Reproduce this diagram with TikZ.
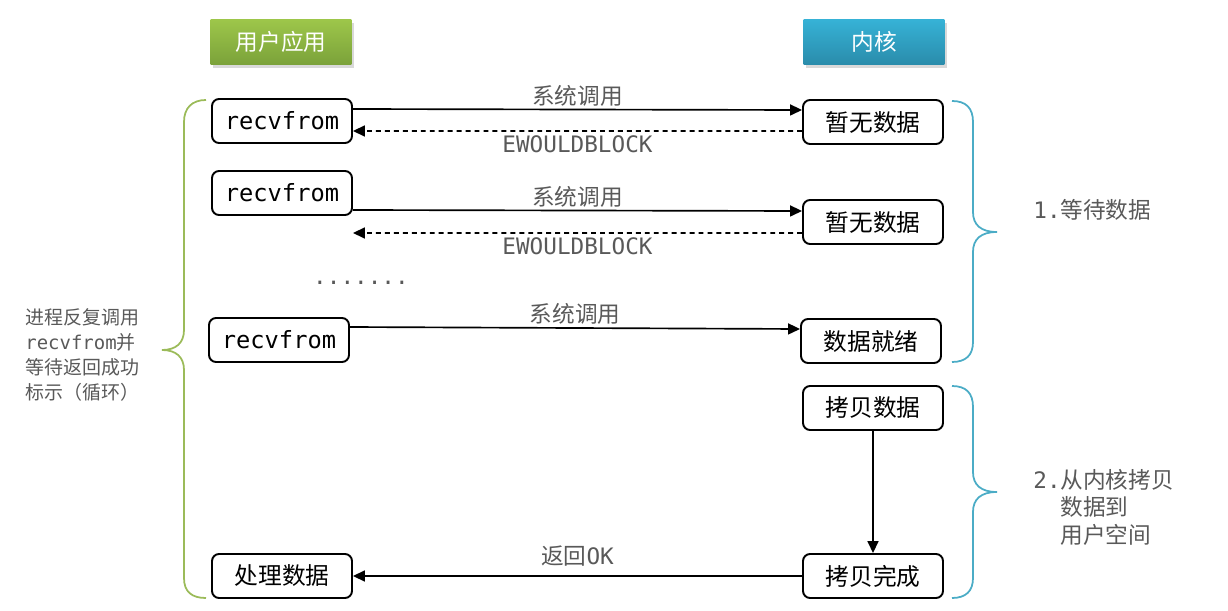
\documentclass[tikz,border=0pt]{standalone}
\usepackage{fontspec}
\setmainfont{Noto Sans CJK SC}
\setmonofont{DejaVu Sans Mono}
\usepackage{tikz}
\usetikzlibrary{arrows.meta, positioning, shadows}
\definecolor{appgreen}{HTML}{9BBB59}
\definecolor{appgreentop}{HTML}{9DC64A}
\definecolor{appgreenbot}{HTML}{7BA23A}
\definecolor{kernblue}{HTML}{4BACC6}
\definecolor{kernbluetop}{HTML}{36B2D6}
\definecolor{kernbluebot}{HTML}{2A8CAB}
\definecolor{labelgray}{HTML}{595959}

\begin{document}
\begin{tikzpicture}[x=0.02cm, y=-0.02cm,
	header/.style={minimum width=2.82cm, minimum height=0.9cm, inner sep=0pt, text=white,
		font=\fontsize{12.9}{15}\selectfont,
		drop shadow={shadow xshift=0.05cm, shadow yshift=-0.07cm, opacity=0.3}},
	box/.style={draw, line width=1.1pt, rounded corners=0.14cm, minimum width=2.8cm,
		minimum height=0.88cm, inner sep=0pt, font=\fontsize{13.5}{16}\selectfont},
	call/.style={line width=0.95pt, -{Triangle[length=0.24cm, width=0.22cm]}},
	reply/.style={call, dash pattern=on 2.8pt off 2.3pt},
	lbl/.style={text=labelgray, inner sep=0pt, font=\fontsize{12.9}{15}\selectfont},
	brace/.style={line width=1pt}]
	\useasboundingbox (0,0) rectangle (1228,611);
	% headers
	\node[header, top color=appgreentop, bottom color=appgreenbot] (app) at (281,42) {用户应用};
	\node[header, top color=kernbluetop, bottom color=kernbluebot] (kern) at (874,42) {内核};
	% user side
	\node[box] (r1) at (282,121) {\ttfamily recvfrom};
	\node[box] (r2) at (282,193) {\ttfamily recvfrom};
	\node[box] (r3) at (279,340) {\ttfamily recvfrom};
	\node[box] (done) at (282,576) {处理数据};
	% kernel side
	\node[box] (k1) at (873,122) {暂无数据};
	\node[box] (k2) at (873,222) {暂无数据};
	\node[box] (k3) at (871,341) {数据就绪};
	\node[box] (k4) at (873,408) {拷贝数据};
	\node[box] (k5) at (873,576) {拷贝完成};
	% calls
	\draw[call] ([yshift=0.24cm]r1.east) -- ([yshift=0.24cm]k1.west)
		node[lbl, midway, above=0.05cm] {系统调用};
	\draw[reply] ([yshift=-0.18cm]k1.west) -- ([yshift=-0.2cm]r1.east)
		node[lbl, midway, below=0.07cm] {\ttfamily EWOULDBLOCK};
	\draw[call] ([yshift=-0.34cm]r2.east) -- ([yshift=0.22cm]k2.west)
		node[lbl, midway, above=0.05cm] {系统调用};
	\draw[reply] ([yshift=-0.22cm]k2.west) -- ([yshift=-0.8cm]r2.east)
		node[lbl, midway, below=0.07cm] {\ttfamily EWOULDBLOCK};
	\node[lbl, anchor=base, font=\ttfamily\fontsize{12.9}{15}\selectfont] (dots) at (361,285) {.......};
	\draw[call] ([yshift=0.26cm]r3.east) -- ([yshift=0.24cm]k3.west)
		node[lbl, midway, above=0.05cm] {系统调用};
	\draw[call] (k4.south) -- (k5.north);
	\draw[call] (k5.west) -- (done.east)
		node[lbl, midway, above=0.17cm] {返回{\ttfamily OK}};
	% braces
	\draw[brace, appgreen] (206,100) .. controls (192,100) and (184,108) .. (184,122) -- (184,330)
		.. controls (184,343) and (176,350) .. (162,350) .. controls (176,350) and (184,357) .. (184,370)
		-- (184,578) .. controls (184,592) and (192,598) .. (206,598);
	\draw[brace, kernblue] (952,101) .. controls (966,101) and (973,108) .. (973,122) -- (973,212)
		.. controls (973,225) and (981,232) .. (997,232) .. controls (981,232) and (973,239) .. (973,252)
		-- (973,342) .. controls (973,355) and (966,362) .. (952,362);
	\draw[brace, kernblue] (952,386) .. controls (966,386) and (973,393) .. (973,407) -- (973,472)
		.. controls (973,485) and (981,492) .. (997,492) .. controls (981,492) and (973,499) .. (973,512)
		-- (973,578) .. controls (973,591) and (966,598) .. (952,598);
	% notes
	\node[lbl, anchor=west, align=left, font=\fontsize{10.8}{14.2}\selectfont] (loop) at (25,355)
		{进程反复调用\\{\ttfamily recvfrom}并\\等待返回成功\\标示（循环）};
	\node[lbl, anchor=west] (wait) at (1033,210) {{\ttfamily 1.}等待数据};
	\node[lbl, anchor=west, align=left, font=\fontsize{12.9}{15.6}\selectfont] (copy) at (1033,507)
		{{\ttfamily 2.}从内核拷贝\\{\ttfamily\phantom{2.}}数据到\\{\ttfamily\phantom{2.}}用户空间};
\end{tikzpicture}
\end{document}
